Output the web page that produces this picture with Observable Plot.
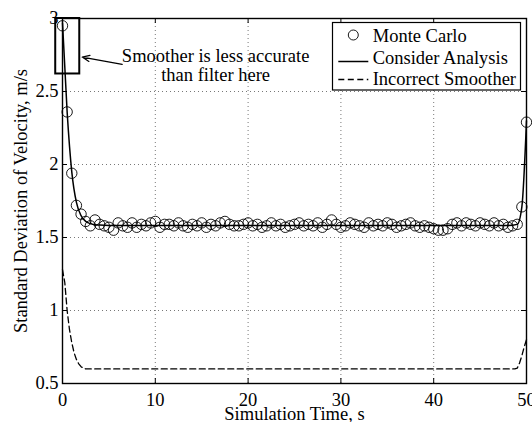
<!DOCTYPE html>
<html>
<head>
<meta charset="utf-8">
<script src="https://cdn.jsdelivr.net/npm/d3@7"></script>
<script src="https://cdn.jsdelivr.net/npm/@observablehq/plot@0.6"></script>
<style>
  html, body { margin: 0; padding: 0; background: #fff; }
  #chart svg { display: block; }
</style>
</head>
<body>
<div id="chart"></div>
<script>
// ---- Data ----
// Monte Carlo samples every 0.5 s (t = 0 .. 50)
const mcTime = d3.range(0, 50.001, 0.5);
const mcValues = [
  2.95, 2.36, 1.94, 1.72, 1.66, 1.61, 1.58, 1.62, 1.59, 1.58,
  1.57, 1.55, 1.60, 1.58, 1.57, 1.60, 1.57, 1.59, 1.58, 1.60,
  1.61, 1.57, 1.59, 1.59, 1.58, 1.60, 1.58, 1.57, 1.59, 1.58,
  1.60, 1.57, 1.59, 1.58, 1.60, 1.61, 1.59, 1.58, 1.58, 1.59,
  1.60, 1.58, 1.59, 1.57, 1.58, 1.60, 1.58, 1.59, 1.57, 1.58,
  1.59, 1.60, 1.58, 1.59, 1.58, 1.60, 1.57, 1.59, 1.62, 1.59,
  1.57, 1.58, 1.60, 1.59, 1.58, 1.57, 1.60, 1.58, 1.59, 1.58,
  1.60, 1.59, 1.57, 1.58, 1.59, 1.60, 1.58, 1.57, 1.58, 1.57,
  1.56, 1.55, 1.55, 1.56, 1.59, 1.60, 1.58, 1.60, 1.59, 1.58,
  1.60, 1.59, 1.58, 1.60, 1.58, 1.59, 1.57, 1.58, 1.59, 1.71,
  2.29
];
// Consider analysis (solid line)
const caTime   = [0, 0.5, 1, 1.5, 2, 2.5, 3, 3.5, 4, 5, 48, 49, 49.5, 50];
const caValues = [2.97, 2.36, 1.95, 1.74, 1.65, 1.61, 1.595, 1.588, 1.585, 1.582, 1.582, 1.59, 1.71, 2.30];
// Incorrect smoother (dashed line)
const isTime   = [0, 0.25, 0.5, 0.75, 1, 1.25, 1.5, 1.75, 2, 2.25, 2.5, 48.75, 49, 49.25, 49.5, 49.75, 50];
const isValues = [1.28, 1.19, 1.00, 0.87, 0.78, 0.71, 0.665, 0.635, 0.615, 0.605, 0.60, 0.60, 0.605, 0.64, 0.69, 0.75, 0.80];

const xTicks = [0, 10, 20, 30, 40, 50];
const yTicks = [0.5, 1, 1.5, 2, 2.5, 3];
const xGrid = [10, 20, 30, 40];
const yGrid = [1, 1.5, 2, 2.5];

const annoBox = [{x1: -0.73, x2: 1.86, y1: 2.62, y2: 3.0}];
const annoArrow = [{x1: 6.43, y1: 2.686, x2: 2.12, y2: 2.736}];
const annoText = [{x: 16.5, y: 2.572, text: "Smoother is less accurate\nthan filter here"}];

const legendItems = ["Monte Carlo", "Consider Analysis", "Incorrect Smoother"];

const mc = mcTime.map((t, i) => ({t, v: mcValues[i]}));
const ca = caTime.map((t, i) => ({t, v: caValues[i]}));
const is = isTime.map((t, i) => ({t, v: isValues[i]}));

const W = 532, H = 422;
const mL = 62, mR = 6, mT = 18, mB = 39;
const frameW = W - mL - mR, frameH = H - mT - mB;
const FONT = "'Liberation Serif', 'Times New Roman', serif";
const FS = 18.5;

const plot = Plot.plot({
  width: W,
  height: H,
  marginLeft: mL,
  marginRight: mR,
  marginTop: mT,
  marginBottom: mB,
  style: {fontFamily: FONT, fontSize: FS + "px", color: "#000", background: "#fff", overflow: "visible"},
  x: {domain: [0, 50]},
  y: {domain: [0.5, 3]},
  marks: [
    // grid
    Plot.ruleX(xGrid, {stroke: "#555", strokeWidth: 0.8, strokeDasharray: "1,3"}),
    Plot.ruleY(yGrid, {stroke: "#555", strokeWidth: 0.8, strokeDasharray: "1,3"}),
    // inward ticks
    Plot.ruleX(xTicks, {stroke: "#000", insetTop: frameH - 5}),
    Plot.ruleX(xTicks, {stroke: "#000", insetBottom: frameH - 5}),
    Plot.ruleY(yTicks, {stroke: "#000", insetRight: frameW - 5}),
    Plot.ruleY(yTicks, {stroke: "#000", insetLeft: frameW - 5}),
    // data
    Plot.line(is, {x: "t", y: "v", stroke: "#000", strokeWidth: 1.3, strokeDasharray: "6,3.5"}),
    Plot.line(ca, {x: "t", y: "v", stroke: "#000", strokeWidth: 1.5, curve: "monotone-x"}),
    Plot.dot(mc, {x: "t", y: "v", r: 5.2, stroke: "#000", strokeWidth: 0.9, fill: "none"}),
    // frame
    Plot.frame({stroke: "#000", strokeWidth: 1.4}),
    // annotation
    Plot.rect(annoBox, {x1: "x1", x2: "x2", y1: "y1", y2: "y2", stroke: "#000", strokeWidth: 2, fill: "none", clip: false}),
    Plot.arrow(annoArrow, {x1: "x1", y1: "y1", x2: "x2", y2: "y2", stroke: "#000", strokeWidth: 1.2, headLength: 10, headAngle: 45}),
    Plot.text(annoText, {x: "x", y: "y", text: "text", textAnchor: "middle", lineAnchor: "bottom", fill: "#000", fontSize: FS, lineHeight: 1.0}),
    // axes
    Plot.axisX(xTicks, {tickSize: 0, tickPadding: 9, label: null, fontSize: FS, tickFormat: d => String(d)}),
    Plot.axisY(yTicks, {tickSize: 0, tickPadding: 4, label: null, fontSize: FS, tickFormat: d => String(d)}),
    // axis titles
    Plot.text(["Simulation Time, s"], {frameAnchor: "bottom", dy: 23, lineAnchor: "top", textAnchor: "middle", fontSize: FS, fill: "#000"}),
    Plot.text(["Standard Deviation of Velocity, m/s"], {frameAnchor: "left", dx: -41, rotate: -90, lineAnchor: "middle", textAnchor: "middle", fontSize: FS, fill: "#000"})
  ]
});

document.getElementById("chart").appendChild(plot);

// ---- Legend (drawn inside the SVG, top right) ----
const svg = d3.select(plot);
const lg = svg.append("g").attr("font-family", FONT).attr("font-size", FS).attr("fill", "#000").attr("text-anchor", "start");
lg.append("rect").attr("x", 332.5).attr("y", 22.5).attr("width", 188).attr("height", 67.5)
  .attr("fill", "#fff").attr("stroke", "#000").attr("stroke-width", 1.2);
const rowY = [35, 61.5, 79.5];
const baseY = [41.5, 63.5, 85];
legendItems.forEach((name, i) => {
  if (i === 0) {
    lg.append("circle").attr("cx", 353.3).attr("cy", rowY[i]).attr("r", 5).attr("fill", "none").attr("stroke", "#000").attr("stroke-width", 0.9);
  } else {
    lg.append("line").attr("x1", 338.3).attr("x2", 368.3).attr("y1", rowY[i]).attr("y2", rowY[i])
      .attr("stroke", "#000").attr("stroke-width", i === 1 ? 1.5 : 1.3)
      .attr("stroke-dasharray", i === 2 ? "6,3.5" : null);
  }
  lg.append("text").attr("x", 372.7).attr("y", baseY[i]).attr("text-anchor", "start").text(name);
});
</script>
</body>
</html>
